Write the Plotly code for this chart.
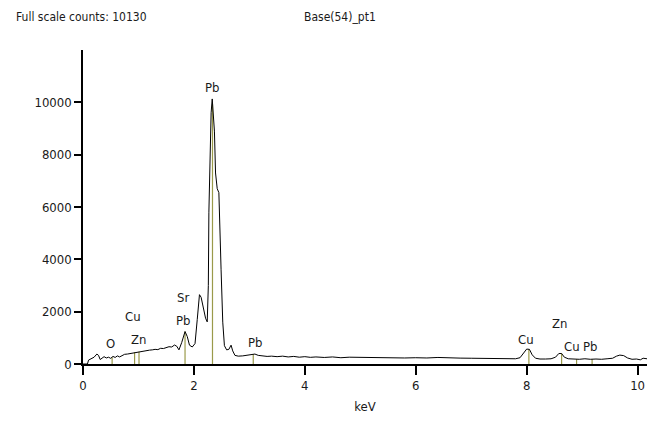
import numpy as np
import plotly.graph_objects as go

# Spectrum (keV, counts)
kev = [0.00, 0.08, 0.10, 0.14, 0.20, 0.25, 0.28, 0.31, 0.35, 0.38, 0.42, 0.46, 0.50, 0.54, 0.58,
       0.62, 0.66, 0.70, 0.75, 0.80, 0.85, 0.90, 0.95, 1.00, 1.05, 1.10, 1.15, 1.20, 1.25,
       1.30, 1.35, 1.40, 1.45, 1.50, 1.55, 1.60, 1.65, 1.69, 1.73, 1.78, 1.84, 1.88, 1.92,
       1.97, 2.02, 2.06, 2.10, 2.13, 2.17, 2.21, 2.24, 2.26, 2.27, 2.29, 2.31, 2.33, 2.35,
       2.37, 2.39, 2.42, 2.45, 2.47, 2.49, 2.52, 2.55, 2.59, 2.63, 2.67, 2.70, 2.74, 2.80,
       2.88, 2.96, 3.04, 3.10, 3.16, 3.24, 3.32, 3.40, 3.50, 3.60, 3.70, 3.80, 3.90, 4.00,
       4.10, 4.20, 4.35, 4.50, 4.65, 4.80, 5.00, 5.20, 5.40, 5.60, 5.80, 6.00, 6.20, 6.40,
       6.60, 6.80, 7.00, 7.20, 7.40, 7.60, 7.80, 7.88, 7.94, 8.00, 8.05, 8.10, 8.16, 8.24,
       8.34, 8.44, 8.52, 8.58, 8.63, 8.68, 8.75, 8.85, 8.95, 9.05, 9.15, 9.25, 9.35, 9.45,
       9.55, 9.62, 9.68, 9.75, 9.82, 9.90, 9.98, 10.05, 10.10, 10.17]
counts = [0, 0, 150, 200, 260, 380, 330, 170, 240, 280, 230, 260, 215, 290, 250,
          310, 270, 330, 370, 380, 400, 430, 450, 470, 480, 490, 520, 530, 540,
          560, 550, 600, 590, 640, 660, 650, 725, 680, 540, 820, 1240, 1050, 720,
          650, 780, 1700, 2650, 2550, 2100, 1750, 1610, 3000, 5800, 8300, 9600, 10130, 9300,
          8900, 7300, 6700, 6550, 5400, 3600, 1600, 700, 540, 560, 720, 500, 330, 300,
          310, 330, 370, 380, 330, 300, 290, 300, 280, 300, 270, 290, 260, 280,
          255, 270, 250, 270, 240, 260, 250, 240, 250, 245, 230, 240, 230, 250,
          230, 225, 220, 220, 215, 210, 200, 240, 400, 570, 560, 350, 220, 190,
          190, 200, 260, 400, 400, 260, 200, 190, 180, 200, 180, 190, 180, 200,
          220, 300, 340, 320, 230, 180, 190, 160, 220, 200]

# Element marker lines (keV) and their labels
line_kev = [0.525, 0.93, 1.01, 1.84, 2.335, 3.07, 8.04, 8.63, 8.90, 9.18]

label_text = ["O", "Cu", "Zn", "Sr", "Pb", "Pb", "Pb", "Cu", "Zn", "Cu", "Pb"]
label_kev = [0.50, 0.91, 1.00, 1.81, 1.80, 2.32, 3.10, 7.99, 8.60, 8.82, 9.14]
label_counts = [800, 1830, 920, 2560, 1680, 10570, 840, 950, 1530, 650, 650]

x_ticks = [0, 2, 4, 6, 8, 10]
y_ticks = [0, 2000, 4000, 6000, 8000, 10000]
y_tick_text = ["0", "2000", "4000", "6000", "8000", "10000"]

FONT = "DejaVu Sans Condensed, Liberation Sans Narrow, sans-serif"
OLIVE = "#9a9a4a"
TXT = "#1a1a1a"

fig = go.Figure()

# marker lines from baseline to the spectrum
lx, ly = [], []
for e in line_kev:
    h = float(np.interp(e, kev, counts))
    lx += [e, e, None]
    ly += [0, h, None]
fig.add_trace(go.Scatter(x=lx, y=ly, mode="lines",
                         line=dict(color=OLIVE, width=1.2), hoverinfo="skip"))

fig.add_trace(go.Scatter(x=kev, y=counts, mode="lines",
                         line=dict(color="black", width=1), hoverinfo="skip"))

for t, x, y in zip(label_text, label_kev, label_counts):
    fig.add_annotation(x=x, y=y, text=t, showarrow=False,
                       font=dict(family=FONT, size=13, color=TXT))

fig.add_annotation(xref="paper", yref="paper", x=-0.122, y=1.105,
                   xanchor="left", yanchor="middle",
                   text="Full scale counts: 10130", showarrow=False,
                   font=dict(family=FONT, size=12, color=TXT))
fig.add_annotation(xref="paper", yref="paper", x=0.455, y=1.105,
                   xanchor="center", yanchor="middle",
                   text="Base(54)_pt1", showarrow=False,
                   font=dict(family=FONT, size=12, color=TXT))

fig.update_layout(
    width=661, height=428,
    margin=dict(l=75, r=22, t=42, b=72),
    plot_bgcolor="white", paper_bgcolor="white",
    showlegend=False,
    font=dict(family=FONT, size=13, color=TXT),
    xaxis=dict(range=[0, 10.17], tickvals=x_ticks, showgrid=False, zeroline=False,
               showline=True, linecolor="black", linewidth=1.5, automargin=False,
               ticks="outside", ticklen=9, tickwidth=1.5, tickcolor="black",
               title=dict(text="keV", standoff=10, font=dict(family=FONT, size=13))),
    yaxis=dict(range=[0, 12000], tickvals=y_ticks, ticktext=y_tick_text,
               showgrid=False, zeroline=False, automargin=False,
               showline=True, linecolor="black", linewidth=1.5,
               ticks="outside", ticklen=7, tickwidth=1.5, tickcolor="black"),
)

fig.write_html("out.html")
